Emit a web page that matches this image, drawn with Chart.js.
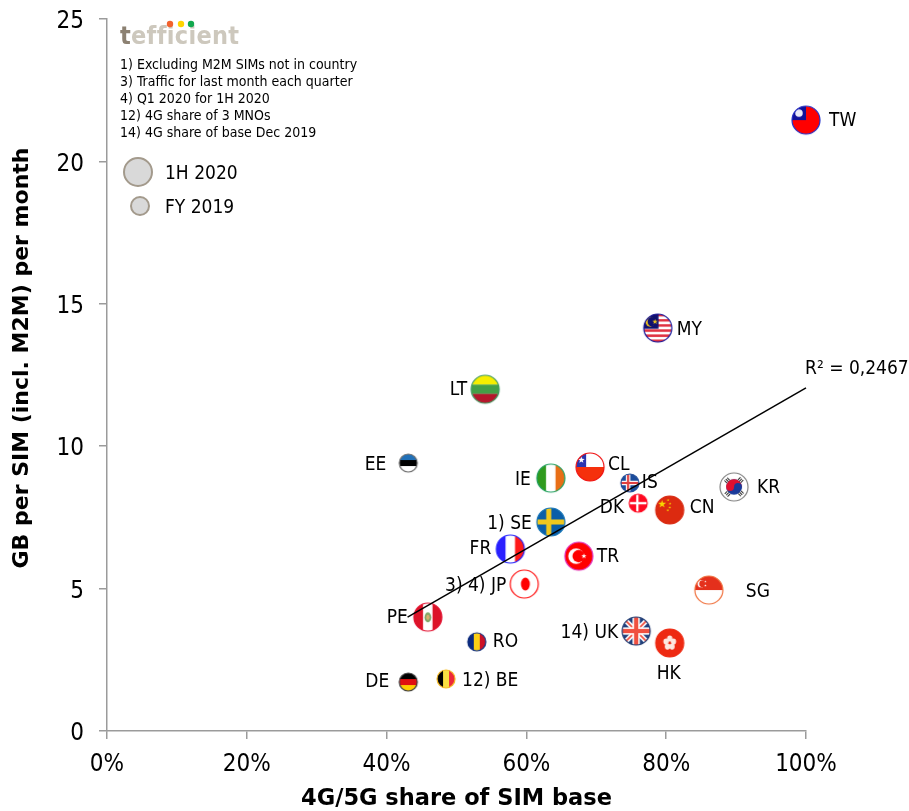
<!DOCTYPE html>
<html>
<head>
<meta charset="utf-8">
<title>GB per SIM vs 4G/5G share</title>
<script src="https://cdn.jsdelivr.net/npm/chart.js@4"></script>
<style>
  html, body { margin: 0; padding: 0; background: #fff; }
  canvas { display: block; }
</style>
</head>
<body>
<canvas id="chart" width="909" height="811"></canvas>
<script>
// 1H 2020 points (big markers)
var big_codes = ["TW", "MY", "LT", "CL", "IE", "SE", "FR", "TR", "JP", "PE", "UK", "HK", "SG", "CN", "KR"];
var big_share = [100, 78.8, 54.1, 69.1, 63.5, 63.5, 57.7, 67.5, 59.7, 45.9, 75.7, 80.5, 86.1, 80.5, 89.7];
var big_gb = [21.45, 14.15, 12.0, 9.27, 8.88, 7.34, 6.39, 6.14, 5.16, 4.0, 3.51, 3.09, 4.95, 7.76, 8.57];

// FY 2019 points (small markers)
var small_codes = ["EE", "IS", "DK", "RO", "DE", "BE"];
var small_share = [43.1, 74.8, 76.0, 52.9, 43.1, 48.5];
var small_gb = [9.41, 8.71, 8.0, 3.13, 1.72, 1.83];

// trend line end points
var trend_share = [43, 100];
var trend_gb = [4.0, 12.05];
var trend_label = "R\u00b2 = 0,2467";

var series_names = ["1H 2020", "FY 2019"];
var x_title = "4G/5G share of SIM base";
var y_title = "GB per SIM (incl. M2M) per month";
var notes = [
  "1) Excluding M2M SIMs not in country",
  "3) Traffic for last month each quarter",
  "4) Q1 2020 for 1H 2020",
  "12) 4G share of 3 MNOs",
  "14) 4G share of base Dec 2019"
];
var footnote_names = { SE: "1) SE", JP: "3) 4) JP", UK: "14) UK", BE: "12) BE" };

// where each country label sits relative to its marker: [dx, dy, align]
var label_place = {
  TW: [23, 1, "left"], MY: [19, 2, "left"], LT: [-18, 1, "right"], CL: [18, -2, "left"],
  IE: [-20, 2, "right"], SE: [-19, 2, "right"], FR: [-19, 0, "right"], TR: [18, 1, "left"],
  JP: [-18, 2, "right"], PE: [-20, 1, "right"], UK: [-18, 2, "right"], HK: [-1, 31, "center"],
  SG: [37, 2, "left"], CN: [20, -2, "left"], KR: [23, 1, "left"], EE: [-22, 2, "right"],
  IS: [12, 0, "left"], DK: [-14, 5, "right"], RO: [16, 0, "left"], DE: [-19, 0, "right"],
  BE: [16, 2, "left"]
};

var font_family = "'DejaVu Sans Condensed', 'DejaVu Sans', sans-serif";
var title_family = "'DejaVu Sans', sans-serif";
var axis_color = "#9b9b9b";
var big_radius = 14;
var small_radius = 9;

function bands_h(ctx, colors) {
  var h = 2 / colors.length;
  colors.forEach(function (c, i) {
    ctx.fillStyle = c;
    ctx.fillRect(-1, -1 + i * h, 2, h + 0.01);
  });
}

function bands_v(ctx, colors) {
  var w = 2 / colors.length;
  colors.forEach(function (c, i) {
    ctx.fillStyle = c;
    ctx.fillRect(-1 + i * w, -1, w + 0.01, 2);
  });
}

function cross(ctx, x, t, color) {
  ctx.fillStyle = color;
  ctx.fillRect(x - t / 2, -1, t, 2);
  ctx.fillRect(-1, -t / 2, 2, t);
}

function disc(ctx, x, y, rx, ry, color) {
  ctx.fillStyle = color;
  ctx.beginPath();
  ctx.ellipse(x, y, rx, ry, 0, 0, Math.PI * 2);
  ctx.fill();
}

function star(ctx, x, y, r, color) {
  ctx.fillStyle = color;
  ctx.beginPath();
  for (var i = 0; i < 10; i++) {
    var a = -Math.PI / 2 + i * Math.PI / 5;
    var q = i % 2 ? r * 0.4 : r;
    ctx.lineTo(x + q * Math.cos(a), y + q * Math.sin(a));
  }
  ctx.closePath();
  ctx.fill();
}

var flags = {
  TW: { ring: "#2233cc", paint: function (c) {
    bands_h(c, ["#ff0000"]);
    c.fillStyle = "#10109a";
    c.fillRect(-1, -1, 1, 1);
    disc(c, -0.5, -0.5, 0.27, 0.27, "#e8e8f8");
  } },
  MY: { ring: "#16169a", paint: function (c) {
    bands_h(c, ["#e03040", "#fff", "#e03040", "#fff", "#e03040", "#fff", "#e03040", "#fff", "#e03040", "#fff", "#e03040"]);
    c.fillStyle = "#10106e";
    c.fillRect(-1, -1, 1.05, 1.05);
    disc(c, -0.55, -0.45, 0.32, 0.36, "#f2c81e");
    disc(c, -0.45, -0.45, 0.28, 0.34, "#10106e");
    star(c, -0.2, -0.45, 0.2, "#f2c81e");
  } },
  LT: { ring: "#3f9a60", paint: function (c) { bands_h(c, ["#f6ee00", "#43a047", "#b5172c"]); } },
  CL: { ring: "#f01010", paint: function (c) {
    bands_h(c, ["#fff", "#f5300c"]);
    c.fillStyle = "#2a35b0";
    c.fillRect(-1, -1, 0.72, 1);
    star(c, -0.62, -0.5, 0.25, "#fff");
  } },
  IE: { ring: "#20a060", paint: function (c) { bands_v(c, ["#2f9a1e", "#fff", "#e86e16"]); } },
  SE: { ring: "#1a78b8", paint: function (c) {
    bands_h(c, ["#0a5ea8"]);
    cross(c, -0.15, 0.36, "#f0c81e");
  } },
  FR: { ring: "#2020ff", paint: function (c) { bands_v(c, ["#2a1fff", "#fff", "#ff1a1a"]); } },
  TR: { ring: "#e030c0", paint: function (c) {
    bands_h(c, ["#ff0000"]);
    disc(c, -0.2, 0, 0.56, 0.56, "#fff");
    disc(c, -0.02, 0, 0.44, 0.44, "#ff0000");
    star(c, 0.36, 0, 0.2, "#fff");
  } },
  JP: { ring: "#ff1010", paint: function (c) {
    bands_h(c, ["#fff"]);
    disc(c, 0.08, 0, 0.32, 0.46, "#ff0000");
  } },
  PE: { ring: "#e21030", paint: function (c) {
    bands_v(c, ["#dc1428", "#fff", "#dc1428"]);
    disc(c, 0, 0.02, 0.24, 0.36, "#7fa868");
    disc(c, 0, 0.02, 0.12, 0.2, "#d8b070");
  } },
  UK: { ring: "#203a70", paint: function (c) {
    bands_h(c, ["#20407e"]);
    c.lineWidth = 0.36;
    c.strokeStyle = "#fff";
    c.beginPath();
    c.moveTo(-1, -1); c.lineTo(1, 1); c.moveTo(1, -1); c.lineTo(-1, 1);
    c.stroke();
    c.lineWidth = 0.12;
    c.strokeStyle = "#f05040";
    c.stroke();
    cross(c, 0, 0.52, "#fff");
    cross(c, 0, 0.3, "#f05040");
  } },
  HK: { ring: "#ee2a12", paint: function (c) {
    bands_h(c, ["#ee2a12"]);
    for (var i = 0; i < 5; i++) {
      var a = i * Math.PI * 2 / 5 - Math.PI / 2;
      disc(c, 0.28 * Math.cos(a), 0.32 * Math.sin(a), 0.19, 0.22, "#fde8e0");
    }
  } },
  SG: { ring: "#f0703c", paint: function (c) {
    bands_h(c, ["#e4301c", "#fff"]);
    disc(c, -0.55, -0.45, 0.26, 0.26, "#fff");
    disc(c, -0.45, -0.45, 0.24, 0.24, "#e4301c");
    star(c, -0.25, -0.6, 0.09, "#fff");
    star(c, -0.25, -0.32, 0.09, "#fff");
  } },
  CN: { ring: "#d92a12", paint: function (c) {
    bands_h(c, ["#dc2a10"]);
    star(c, -0.55, -0.42, 0.3, "#f8d800");
    star(c, -0.12, -0.7, 0.1, "#f8d800");
    star(c, 0.02, -0.45, 0.1, "#f8d800");
    star(c, 0.0, -0.18, 0.1, "#f8d800");
    star(c, -0.14, 0.02, 0.1, "#f8d800");
  } },
  KR: { ring: "#808080", paint: function (c) {
    bands_h(c, ["#fff"]);
    disc(c, 0, 0, 0.56, 0.56, "#1a3a9a");
    c.fillStyle = "#e01030";
    c.beginPath();
    c.arc(0, 0, 0.56, Math.PI, 0);
    c.fill();
    disc(c, 0.28, 0, 0.28, 0.28, "#1a3a9a");
    disc(c, -0.28, 0, 0.28, 0.28, "#e01030");
    c.strokeStyle = "#222";
    c.lineWidth = 0.26;
    c.setLineDash([0.07, 0.07]);
    [[-0.62, -0.62], [0.62, -0.62], [-0.62, 0.62], [0.62, 0.62]].forEach(function (p) {
      c.beginPath();
      c.moveTo(p[0] - p[0] * 0.22 + p[1] * 0.22, p[1] - p[1] * 0.22 - p[0] * 0.22);
      c.lineTo(p[0] - p[0] * 0.22 - p[1] * 0.22, p[1] - p[1] * 0.22 + p[0] * 0.22);
      c.stroke();
    });
    c.setLineDash([]);
  } },
  EE: { ring: "#6a6a6a", paint: function (c) { bands_h(c, ["#2070b8", "#000", "#fff"]); } },
  IS: { ring: "#1f4a96", paint: function (c) {
    bands_h(c, ["#1a4c9c"]);
    cross(c, -0.2, 0.5, "#fff");
    cross(c, -0.2, 0.24, "#e04040");
  } },
  DK: { ring: "#ff0820", paint: function (c) {
    bands_h(c, ["#ff0820"]);
    cross(c, -0.1, 0.26, "#fff");
  } },
  RO: { ring: "#0a2a7a", paint: function (c) { bands_v(c, ["#0a2a80", "#fcd116", "#ce1126"]); } },
  DE: { ring: "#3a3a3a", paint: function (c) { bands_h(c, ["#000", "#e01010", "#ffce00"]); } },
  BE: { ring: "#f5b820", paint: function (c) { bands_v(c, ["#000", "#fae042", "#ed2939"]); } }
};

function make_flag(code, r) {
  var size = 2 * r + 4;
  var cv = document.createElement("canvas");
  cv.width = size;
  cv.height = size;
  var c = cv.getContext("2d");
  c.translate(size / 2, size / 2);
  c.scale(r, r);
  c.save();
  c.beginPath();
  c.arc(0, 0, 1, 0, Math.PI * 2);
  c.clip();
  flags[code].paint(c);
  c.restore();
  c.strokeStyle = flags[code].ring;
  c.lineWidth = 1.2 / r;
  c.beginPath();
  c.arc(0, 0, 1, 0, Math.PI * 2);
  c.stroke();
  return cv;
}

function to_points(xs, ys) {
  return xs.map(function (x, i) {
    return { x: x, y: ys[i] };
  });
}

var country_labels = {
  id: "country_labels",
  afterDatasetsDraw: function (chart) {
    var ctx = chart.ctx;
    ctx.save();
    ctx.fillStyle = "#000";
    ctx.textBaseline = "middle";
    ctx.font = "19px " + font_family;
    [[1, big_codes], [2, small_codes]].forEach(function (set) {
      chart.getDatasetMeta(set[0]).data.forEach(function (pt, i) {
        var code = set[1][i];
        var place = label_place[code];
        ctx.textAlign = place[2];
        ctx.fillText(footnote_names[code] || code, pt.x + place[0], pt.y + place[1]);
      });
    });
    // trend line label
    var x = chart.scales.x.getPixelForValue(trend_share[1]);
    var y = chart.scales.y.getPixelForValue(trend_gb[1]);
    ctx.textAlign = "left";
    ctx.fillText(trend_label, x - 1, y - 19);
    ctx.restore();
  }
};

// y tick labels sit a little lower than the font's middle line
var nudge_ticks = {
  id: "nudge_ticks",
  beforeDraw: function (chart) {
    chart.scales.y.getLabelItems().forEach(function (item) {
      item.textOffset = 3;
    });
  }
};

var logo_and_notes = {
  id: "logo_and_notes",
  afterDraw: function (chart) {
    var ctx = chart.ctx;
    ctx.save();
    ctx.textAlign = "left";
    ctx.textBaseline = "alphabetic";
    ctx.letterSpacing = "0.3px";
    ctx.font = "bold 25px " + font_family;
    ctx.fillStyle = "#8c8172";
    ctx.fillText("t", 120, 44);
    var w = ctx.measureText("t").width;
    ctx.fillStyle = "#cdc8bd";
    ctx.fillText("efficient", 120 + w, 44);
    ctx.letterSpacing = "0px";
    [[170, "#f2622e"], [181, "#ffd400"], [191, "#12a84e"]].forEach(function (d) {
      ctx.fillStyle = d[1];
      ctx.beginPath();
      ctx.arc(d[0], 24, 3.2, 0, Math.PI * 2);
      ctx.fill();
    });
    ctx.fillStyle = "#000";
    ctx.textBaseline = "middle";
    ctx.font = "14px " + font_family;
    notes.forEach(function (line, i) {
      ctx.fillText(line, 120, 65 + i * 17);
    });
    // legend
    [[138, 172, big_radius, series_names[0]], [140, 206, small_radius, series_names[1]]].forEach(function (item) {
      ctx.fillStyle = "#d9d9d9";
      ctx.strokeStyle = "#a39a8c";
      ctx.lineWidth = 2;
      ctx.beginPath();
      ctx.arc(item[0], item[1], item[2], 0, Math.PI * 2);
      ctx.fill();
      ctx.stroke();
      ctx.fillStyle = "#000";
      ctx.font = "19px " + font_family;
      ctx.fillText(item[3], 165, item[1] + 2);
    });
    // y title is not centred on the axis in the original, so it is placed by hand
    ctx.translate(22, 358);
    ctx.rotate(-Math.PI / 2);
    ctx.textAlign = "center";
    ctx.font = "bold 22px " + title_family;
    ctx.fillText(y_title, 0, 0);
    ctx.restore();
  }
};

function big_chart() {
  var config = {
    type: "scatter",
    data: {
      datasets: [
        {
          label: "Trend",
          type: "line",
          data: to_points(trend_share, trend_gb),
          borderColor: "#000",
          borderWidth: 1.5,
          pointRadius: 0,
          fill: false,
          clip: false,
          order: 0,
        },
        {
          label: series_names[0],
          data: to_points(big_share, big_gb),
          pointStyle: big_codes.map(function (c) { return make_flag(c, big_radius); }),
          pointRadius: big_radius,
          clip: false,
          order: 1,
        },
        {
          label: series_names[1],
          data: to_points(small_share, small_gb),
          pointStyle: small_codes.map(function (c) { return make_flag(c, small_radius); }),
          pointRadius: small_radius,
          clip: false,
          order: 2,
        },
      ],
    },
    options: {
      responsive: false,
      animation: false,
      layout: { padding: { top: 19, right: 103, left: 0, bottom: 0 } },
      plugins: { legend: { display: false }, tooltip: { enabled: false } },
      scales: {
        x: {
          type: "linear",
          min: 0,
          max: 100,
          afterFit: function (scale) { scale.height = 80; },
          ticks: {
            stepSize: 20,
            color: "#000",
            padding: 11,
            maxRotation: 0,
            font: { family: font_family, size: 24 },
            callback: function (v) { return v + "%"; },
          },
          grid: { drawOnChartArea: false, tickLength: 8, color: axis_color, lineWidth: 1.5 },
          border: { color: axis_color, width: 1.5 },
          title: {
            display: true,
            text: x_title,
            color: "#000",
            padding: { top: 0, bottom: -2 },
            font: { family: title_family, size: 22.5, weight: "bold" },
          },
        },
        y: {
          min: 0,
          max: 25,
          afterFit: function (scale) {
            scale.width = 107;
            scale.paddingTop = 0;
            scale.paddingBottom = 0;
          },
          ticks: {
            stepSize: 5,
            color: "#000",
            padding: 15,
            font: { family: font_family, size: 24 },
          },
          grid: { drawOnChartArea: false, tickLength: 8, color: axis_color, lineWidth: 1.5 },
          border: { color: axis_color, width: 1.5 },
        },
      },
    },
    plugins: [country_labels, nudge_ticks, logo_and_notes],
  };
  var ctx = document.getElementById("chart").getContext("2d");
  return new Chart(ctx, config);
}

big_chart();
</script>
</body>
</html>
